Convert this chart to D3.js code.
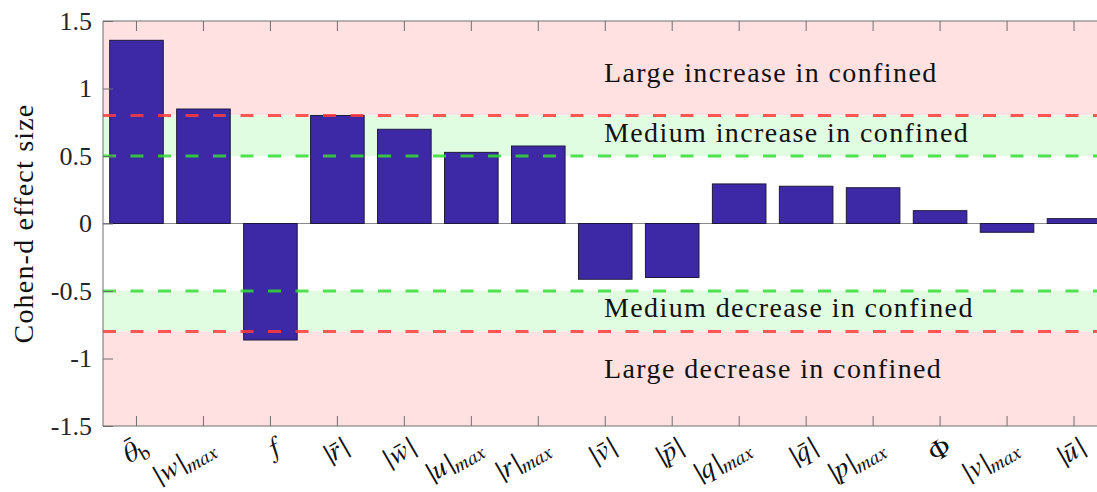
<!DOCTYPE html>
<html><head><meta charset="utf-8">
<script src="https://cdn.jsdelivr.net/npm/d3@7/dist/d3.min.js"></script>
<style>body{margin:0;background:#fff;overflow:hidden}svg{display:block}
text{font-family:"Liberation Serif","DejaVu Serif",serif}</style>
</head><body>
<svg id="chart" width="1097" height="492"></svg>
<script>
const categories = ["θ̄_b","|w|_max","f","|r̄|","|w̄|","|u|_max","|r|_max","|v̄|","|p̄|","|q|_max","|q̄|","|p|_max","Φ","|v|_max","|ū|"];
const values = [1.357,0.848,-0.863,0.80,0.698,0.527,0.574,-0.413,-0.40,0.293,0.276,0.265,0.095,-0.065,0.036];
const yTicks = [-1.5,-1,-0.5,0,0.5,1,1.5];
const bands = [
  {from:0.8,to:1.5,color:"#ffe1e2"},
  {from:0.5,to:0.8,color:"#e1fde1"},
  {from:-0.8,to:-0.5,color:"#e1fde1"},
  {from:-1.5,to:-0.8,color:"#ffe1e2"}
];
const thresholds = [
  {v:0.8,color:"#ff3b3b"},{v:0.5,color:"#33dd33"},
  {v:-0.5,color:"#33dd33"},{v:-0.8,color:"#ff3b3b"}
];
const annotations = [
  {text:"Large increase in confined",v:1.046},
  {text:"Medium increase in confined",v:0.601},
  {text:"Medium decrease in confined",v:-0.695},
  {text:"Large decrease in confined",v:-1.147}
];
const yLabel = "Cohen-d effect size";

const font = '"Liberation Serif","DejaVu Serif",serif';
const labFont = '"FreeSerif","Liberation Serif",serif';
const svg = d3.select("#chart");
const L = 103, R = 1107.5, T = 21, B = 426;
const x = d3.scaleBand().domain(categories).range([L, R]).paddingInner(0.2).paddingOuter(0.1);
const y = d3.scaleLinear().domain([-1.5,1.5]).range([B,T]);

const g = svg.append("g");
g.selectAll("rect.band").data(bands).join("rect").attr("class","band")
  .attr("x",L).attr("width",R-L)
  .attr("y",d=>y(d.to)).attr("height",d=>y(d.from)-y(d.to))
  .attr("fill",d=>d.color);

g.append("line").attr("x1",L).attr("x2",R).attr("y1",y(0)).attr("y2",y(0))
  .attr("stroke","#8a8a8a").attr("stroke-width",1);

g.selectAll("rect.bar").data(values).join("rect").attr("class","bar")
  .attr("x",(d,i)=>x(categories[i])).attr("width",x.bandwidth())
  .attr("y",d=>y(Math.max(0,d))).attr("height",d=>Math.abs(y(d)-y(0)))
  .attr("fill","#3d28a6").attr("stroke","#1e1a3c").attr("stroke-width",1);

g.selectAll("line.thr").data(thresholds).join("line").attr("class","thr")
  .attr("x1",L).attr("x2",R).attr("y1",d=>y(d.v)).attr("y2",d=>y(d.v))
  .attr("stroke",d=>d.color).attr("stroke-width",3).attr("stroke-opacity",0.85)
  .attr("stroke-dasharray","13,14.5");

g.selectAll("text.ann").data(annotations).join("text").attr("class","ann")
  .attr("x",604).attr("y",d=>y(d.v))
  .style("font-family",font).attr("font-size",28).style("letter-spacing","1.4px").attr("fill","#111")
  .text(d=>d.text);

const yAxis = d3.axisLeft(y).tickValues(yTicks).tickSize(-10).tickPadding(11)
  .tickFormat(d=>String(d));
const ya = svg.append("g").attr("transform",`translate(${L},0)`).call(yAxis);
ya.select(".domain").remove();
ya.selectAll("line").attr("stroke","#6f6f6f");
ya.selectAll("text").style("font-family",font).attr("font-size",26).attr("fill","#262626");

const xb = svg.append("g").attr("transform",`translate(0,${B})`)
  .call(d3.axisBottom(x).tickSize(-10).tickFormat(""));
xb.select(".domain").remove();
xb.selectAll("line").attr("stroke","#6f6f6f");
const xt = svg.append("g").attr("transform",`translate(0,${T})`)
  .call(d3.axisTop(x).tickSize(-10).tickFormat(""));
xt.select(".domain").remove();
xt.selectAll("line").attr("stroke","#6f6f6f");

svg.append("path").attr("d",`M${R},${T}H${L}V${B}H${R}`).attr("fill","none")
  .attr("stroke","#6f6f6f").attr("stroke-width",1);

const lab = svg.append("g");
categories.forEach(c=>{
  const [main, sub] = c.split("_");
  const cx = x(c) + x.bandwidth()/2;
  const t = lab.append("text")
    .attr("transform",`translate(${cx+13},${B+26}) rotate(-30)`)
    .attr("text-anchor","end")
    .style("font-family",labFont).attr("font-size",28).attr("fill","#111");
  t.append("tspan").attr("font-style", main==="Φ" ? "normal" : "italic").text(main);
  if (sub) t.append("tspan").attr("font-style", sub==="b" ? "normal" : "italic")
    .attr("font-size",20).attr("dy",5).text(sub);
});

svg.append("text").attr("transform",`translate(33,${(T+B)/2}) rotate(-90)`)
  .attr("text-anchor","middle").style("font-family",font).attr("font-size",28)
  .style("letter-spacing","1.2px").attr("fill","#111")
  .text(yLabel);
</script>
</body></html>
